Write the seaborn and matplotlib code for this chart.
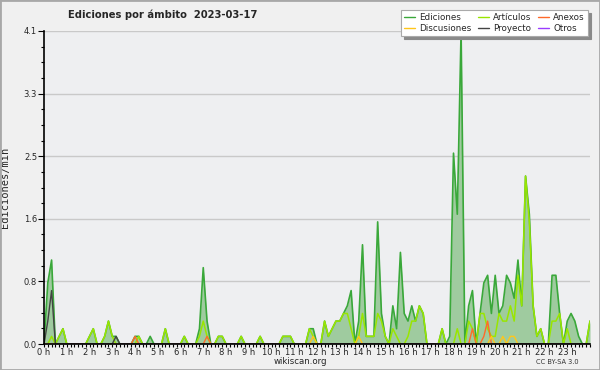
import numpy as np
import matplotlib
matplotlib.use("Agg")
import matplotlib.pyplot as plt
from matplotlib.lines import Line2D
from matplotlib.patches import Rectangle
from matplotlib.ticker import FixedLocator, MultipleLocator
import seaborn as sns

# edits per minute, one value every 10 minutes (00:00 .. 24:00), one row per hour
ediciones = [
    0, 0.8, 1.1, 0, 0.1, 0.2,
    0, 0, 0, 0, 0, 0,
    0.1, 0.2, 0, 0, 0.1, 0.3,
    0.1, 0.1, 0, 0, 0, 0,
    0.1, 0.1, 0, 0, 0.1, 0,
    0, 0, 0.2, 0, 0, 0,
    0, 0.1, 0, 0, 0, 0.2,
    1.0, 0.3, 0, 0, 0.1, 0.1,
    0, 0, 0, 0, 0.1, 0,
    0, 0, 0, 0.1, 0, 0,
    0, 0, 0, 0.1, 0.1, 0.1,
    0, 0, 0, 0, 0.2, 0.2,
    0, 0, 0.3, 0.1, 0.2, 0.3,
    0.3, 0.4, 0.5, 0.7, 0, 0.3,
    1.3, 0.1, 0.1, 0.1, 1.6, 0.4,
    0.1, 0, 0.5, 0.2, 1.2, 0.4,
    0.3, 0.5, 0.3, 0.5, 0.4, 0,
    0, 0, 0, 0.2, 0, 0.1,
    2.5, 1.7, 4.1, 0, 0.5, 0.7,
    0, 0.4, 0.8, 0.9, 0.4, 0.9,
    0.4, 0.5, 0.9, 0.8, 0.6, 1.1,
    0.5, 2.2, 1.7, 0.5, 0.1, 0.2,
    0, 0, 0.9, 0.9, 0.4, 0,
    0.3, 0.4, 0.3, 0.1, 0, 0,
    0.3,
]
articulos = [
    0, 0, 0.1, 0, 0.1, 0.2,
    0, 0, 0, 0, 0, 0,
    0.1, 0.2, 0, 0, 0.1, 0.3,
    0.1, 0, 0, 0, 0, 0,
    0, 0.1, 0, 0, 0, 0,
    0, 0, 0.2, 0, 0, 0,
    0, 0.1, 0, 0, 0, 0.1,
    0.3, 0.1, 0, 0, 0.1, 0.1,
    0, 0, 0, 0, 0.1, 0,
    0, 0, 0, 0.1, 0, 0,
    0, 0, 0, 0.1, 0.1, 0.1,
    0, 0, 0, 0, 0.2, 0.1,
    0, 0, 0.3, 0.1, 0.2, 0.3,
    0.3, 0.4, 0.4, 0.2, 0, 0.1,
    0.4, 0.1, 0.1, 0.1, 0.4, 0.3,
    0.1, 0, 0.2, 0.1, 0, 0,
    0.1, 0.3, 0.3, 0.5, 0.4, 0,
    0, 0, 0, 0.2, 0, 0,
    0, 0.2, 0, 0, 0.3, 0.2,
    0, 0.4, 0.4, 0.2, 0.1, 0.1,
    0.4, 0.3, 0.3, 0.5, 0.3, 0.9,
    0.5, 2.2, 1.6, 0.5, 0.1, 0.2,
    0, 0, 0.3, 0.3, 0.4, 0,
    0.2, 0, 0, 0, 0, 0,
    0.3,
]
# sparse series: slot index -> value
anexos_idx = [24, 43, 113, 116, 117]
anexos_val = [0.1, 0.1, 0.2, 0.1, 0.3]
discusiones_idx = [71, 83, 118, 121, 123, 124]
discusiones_val = [0.1, 0.1, 0.1, 0.1, 0.1, 0.1]
proyecto_idx = [1, 2, 19]
proyecto_val = [0.3, 0.7, 0.1]
otros_idx = []
otros_val = []

hour_labels = [f"{h} h" for h in range(24)]
y_ticks = [0, 0.82, 1.64, 2.46, 3.28, 4.1]
y_labels = ["0.0", "0.8", "1.6", "2.5", "3.3", "4.1"]

n = len(ediciones)
hours = np.arange(n) / 6.0


def sparse(idx, val):
    s = np.zeros(n)
    s[idx] = val
    return s


anexos = sparse(anexos_idx, anexos_val)
discusiones = sparse(discusiones_idx, discusiones_val)
proyecto = sparse(proyecto_idx, proyecto_val)
otros = sparse(otros_idx, otros_val)

sns.set_theme(style="white")
plt.rcParams["font.family"] = ["DejaVu Sans"]

colors = {
    "Ediciones": "#3aa83a",
    "Artículos": "#99e600",
    "Anexos": "#ff6a2a",
    "Discusiones": "#ffc61a",
    "Proyecto": "#444444",
    "Otros": "#9a3cff",
}

fig = plt.figure(figsize=(6, 3.7), dpi=100, facecolor="#f0f0f0")
ax = fig.add_axes([44 / 600, 26 / 370, 546 / 600, 313 / 370])
ax.set_facecolor("#eeeff1")

ax.fill_between(hours, ediciones, color="#9fcb9f", lw=0, zorder=2)
sns.lineplot(x=hours, y=ediciones, color=colors["Ediciones"], lw=1.2, ax=ax, zorder=3)
sns.lineplot(x=hours, y=articulos, color=colors["Artículos"], lw=1.1, ax=ax, zorder=3)
sns.lineplot(x=hours, y=anexos, color=colors["Anexos"], lw=1.0, ax=ax, zorder=3)
sns.lineplot(x=hours, y=discusiones, color=colors["Discusiones"], lw=1.0, ax=ax, zorder=3)
sns.lineplot(x=hours, y=proyecto, color=colors["Proyecto"], lw=1.0, ax=ax, zorder=3)
sns.lineplot(x=hours, y=otros, color=colors["Otros"], lw=1.0, ax=ax, zorder=3)

ax.set_xlim(0, 24)
ax.set_ylim(0, 4.1)
ax.set_xticks(range(24))
ax.set_xticklabels(hour_labels)
ax.xaxis.set_minor_locator(MultipleLocator(1 / 6))
ax.set_yticks(y_ticks)
ax.set_yticklabels(y_labels)
ax.yaxis.set_minor_locator(FixedLocator(np.arange(0, 4.11, 0.205)))
ax.tick_params(axis="x", which="both", direction="out", length=2.5, width=0.8,
               color="black", labelsize=6, pad=0.5)
ax.tick_params(axis="y", which="major", direction="out", length=4, width=0.8,
               color="black", labelsize=6, pad=1)
ax.tick_params(axis="y", which="minor", direction="out", length=2, width=0.8, color="black")
ax.tick_params(left=True, bottom=True, which="both")
ax.yaxis.grid(True, color="#c9c9c9", lw=1)
ax.set_axisbelow(True)
for s in ["top", "right"]:
    ax.spines[s].set_visible(False)
for s in ["left", "bottom"]:
    ax.spines[s].set_color("black")
    ax.spines[s].set_linewidth(1.2)
    ax.spines[s].set_zorder(5)
ax.set_xlabel("")
ax.set_ylabel("Ediciones/min", family="DejaVu Sans Mono", fontsize=7.5)
ax.yaxis.set_label_coords(-34 / 546, 0.5)

fig.text(163 / 600, 1 - 15 / 370, "Ediciones por ámbito  2023-03-17",
         ha="center", va="center", fontsize=7.2, fontweight="bold")
fig.text(300 / 600, 1 - 362 / 370, "wikiscan.org", ha="center", va="center", fontsize=6.2)
fig.text(557 / 600, 1 - 362 / 370, "CC BY-SA 3.0", ha="center", va="center",
         fontsize=4.8, color="#333333")

order = ["Ediciones", "Discusiones", "Artículos", "Proyecto", "Anexos", "Otros"]
handles = [Line2D([], [], color=colors[k], lw=1.0) for k in order]
leg = fig.legend(handles, order, ncol=3, loc="upper right",
                 bbox_to_anchor=(588 / 600, 1 - 10 / 370), fontsize=6.3,
                 frameon=True, fancybox=False, shadow={"color": "#8a8a8a", "alpha": 1},
                 edgecolor="#aaaaaa", facecolor="#ffffff", framealpha=1,
                 handlelength=1.2, handletextpad=0.5, columnspacing=0.8,
                 labelspacing=0.25, borderpad=0.35, borderaxespad=0)
leg.get_frame().set_linewidth(0.8)

fig.patches.append(Rectangle((0, 0), 1, 1, transform=fig.transFigure, fill=False,
                             edgecolor="#a8a8a8", lw=2))

fig.savefig("out.png", dpi=100, facecolor=fig.get_facecolor())
